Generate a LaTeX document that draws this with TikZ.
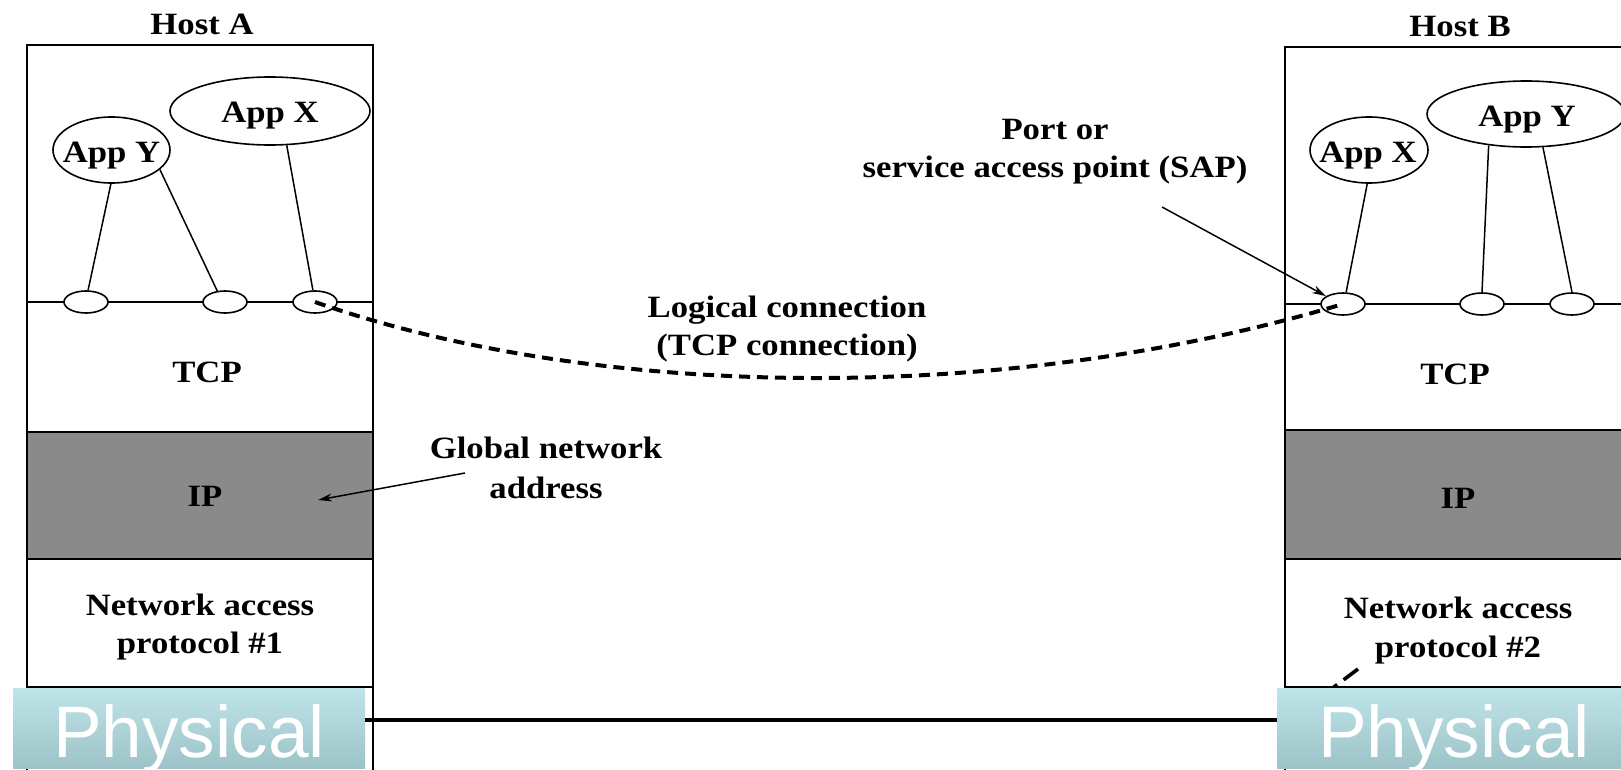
\documentclass[tikz,border=0pt]{standalone}
\usepackage{fontspec}
\setmainfont{Liberation Serif}
\newfontfamily\scanfont[FakeStretch=1.12]{Liberation Serif}
\newfontfamily\physfont{Liberation Sans}
\usetikzlibrary{shapes.geometric,arrows.meta}
\definecolor{ipgray}{HTML}{8A8A8A}
\definecolor{phystop}{HTML}{BFE4E9}
\definecolor{physbot}{HTML}{9CC3C7}
\tikzset{
  lbl/.style={font=\scanfont\bfseries\fontsize{15.5}{18}\selectfont, inner sep=0pt, anchor=base},
  app/.style={draw, ellipse, line width=0.8pt, inner sep=0pt},
  port/.style={draw, ellipse, line width=0.8pt, inner sep=0pt, minimum width=22pt, minimum height=11pt, fill=white},
  hostline/.style={line width=1pt},
  link/.style={line width=0.75pt},
  logical/.style={line width=2pt, dash pattern=on 5.5pt off 3.5pt},
  pointer/.style={line width=0.75pt, -{Stealth[length=7pt,width=4pt]}},
  physbox/.style={rectangle, inner sep=0pt, top color=phystop, bottom color=physbot, draw=none},
  phystext/.style={font=\physfont\fontsize{36.5}{40}\selectfont, text=white, inner sep=0pt, anchor=base},
  physline/.style={line width=2pt}
}
\begin{document}
\begin{tikzpicture}[x=0.5pt,y=-0.5pt]
\useasboundingbox (0,0) rectangle (1621,770);
\clip (0,0) rectangle (1621,770);
\fill[white] (0,0) rectangle (1621,770);

% ---------- Host A frame and layers ----------
\fill[ipgray] (27,432) rectangle (373,559);
\draw[hostline] (27,770) -- (27,45) -- (373,45) -- (373,770);
\draw[hostline] (27,302) -- (373,302);
\draw[hostline] (27,432) -- (373,432);
\draw[hostline] (27,559) -- (373,559);
\draw[hostline] (27,687) -- (373,687);

% ---------- Host B frame and layers ----------
\fill[ipgray] (1285,430) rectangle (1640,559);
\draw[hostline] (1285,770) -- (1285,47) -- (1640,47);
\draw[hostline] (1285,304) -- (1640,304);
\draw[hostline] (1285,430) -- (1640,430);
\draw[hostline] (1285,559) -- (1640,559);
\draw[hostline] (1285,687) -- (1640,687);

% ---------- Labels ----------
\node[lbl] (hostA) at (202,35) {Host A};
\node[lbl] (hostB) at (1460,37) {Host B};

\node[lbl] (tcpA) at (207,382) {TCP};
\node[lbl] (ipA) at (205,506) {IP};
\node[lbl] (naA1) at (200,615) {Network access};
\node[lbl] (naA2) at (200,653) {protocol \#1};

\node[lbl] (tcpB) at (1455,384) {TCP};
\node[lbl] (ipB) at (1458,508) {IP};
\node[lbl] (naB1) at (1458,618) {Network access};
\node[lbl] (naB2) at (1458,657) {protocol \#2};

\node[lbl] (log1) at (787,317) {Logical connection};
\node[lbl] (log2) at (787,355) {(TCP connection)};
\node[lbl] (sap1) at (1055,140) {Port or};
\node[lbl] (sap2) at (1055,178) {service access point (SAP)};
\node[lbl] (gna1) at (546,458) {Global network};
\node[lbl] (gna2) at (546,498) {address};

% ---------- Applications ----------
\node[app, minimum width=58.5pt, minimum height=33pt] (appYA) at (111.5,150) {};
\node[lbl] (appYAt) at (111.5,163) {App Y};
\node[app, minimum width=100pt, minimum height=34pt] (appXA) at (270,111) {};
\node[lbl] (appXAt) at (270,123) {App X};

\node[app, minimum width=59pt, minimum height=33pt] (appXB) at (1369,150) {};
\node[lbl] (appXBt) at (1368,163) {App X};
\node[app, minimum width=99pt, minimum height=33pt] (appYB) at (1526,114) {};
\node[lbl] (appYBt) at (1527,127) {App Y};

% ---------- Ports ----------
\node[port] (pA1) at (86,302) {};
\node[port] (pA2) at (225,302) {};
\node[port] (pA3) at (315,302) {};
\node[port] (pB1) at (1343,304) {};
\node[port] (pB2) at (1482,304) {};
\node[port] (pB3) at (1572,304) {};

\draw[link] (appYA.-91) -- (pA1.80);
\draw[link] (appYA.-22) -- (pA2.125);
\draw[link] (appXA.-64) -- (pA3.100);
\draw[link] (appXB.-93) -- (pB1.75);
\draw[link] (appYB.-140) -- (pB2.90);
\draw[link] (appYB.-63) -- (pB3.90);

% ---------- Logical connection ----------
\draw[logical] (pA3.center) .. controls (595,400) and (1003,406) .. (pB1.center);

% ---------- Pointers ----------
\coordinate (sapTail) at (1162,207);
\draw[pointer] (sapTail) -- (pB1.155);
\coordinate (gnaTail) at (465,473);
\coordinate (gnaTip) at (318,500);
\draw[pointer] (gnaTail) -- (gnaTip);

% fragment of dashed line near network access #2
\coordinate (fragA) at (1358,669);
\coordinate (fragB) at (1326,693);
\draw[line width=1.8pt, dash pattern=on 9pt off 4pt] (fragA) -- (fragB);

% ---------- Physical ----------
\node[physbox, minimum width=176pt, minimum height=40pt] (physA) at (189,728) {};
\node[physbox, minimum width=172pt, minimum height=40pt] (physB) at (1449,728) {};
\node[phystext] (physAt) at (189,757) {Physical};
\node[phystext] (physBt) at (1454,757) {Physical};
\draw[physline] ([yshift=4pt]physA.east) -- ([yshift=4pt]physB.west);
\end{tikzpicture}
\end{document}
